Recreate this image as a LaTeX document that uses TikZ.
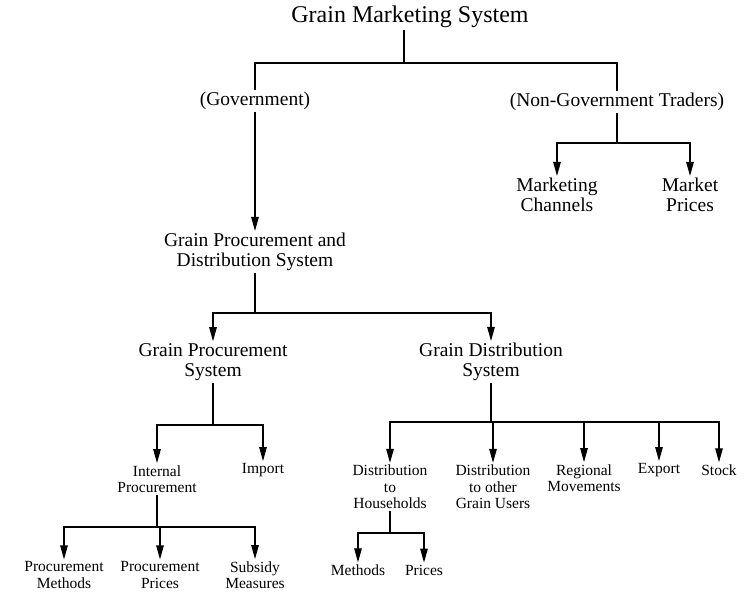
\documentclass[tikz,border=0pt]{standalone}
\usepackage{fontspec}
\setmainfont{Liberation Serif}
\usetikzlibrary{arrows.meta}

\begin{document}
\begin{tikzpicture}[
  x=1pt,y=-1pt,
  head/.style={
    inner sep=2pt,
    font=\fontsize{24}{26}\selectfont
  },
  upper/.style={
    align=center,
    inner sep=2pt,
    font=\fontsize{19.5}{20}\selectfont
  },
  lower/.style={
    align=center,
    inner sep=2pt,
    font=\fontsize{15.5}{16.5}\selectfont
  },
  link/.style={line width=1.2pt},
  down/.style={link,-{Triangle[width=7.5pt,length=14pt]}}
]
\useasboundingbox (0,0) rectangle (746,595);

\node[head] (gms) at (410,17) {Grain Marketing System};
\node[upper] (gov) at (255,101) {(Government)};
\node[upper] (ngt) at (617,102) {(Non-Government Traders)};
\node[upper] (mc) at (557,195) {Marketing\\Channels};
\node[upper] (mp) at (690,195) {Market\\Prices};
\node[upper] (gpd) at (255,252) {Grain Procurement and\\Distribution System};
\node[upper] (gps) at (213,362) {Grain Procurement\\System};
\node[upper] (gds) at (491,362) {Grain Distribution\\System};
\node[lower] (ip) at (157,479) {Internal\\Procurement};
\node[lower] (imp) at (263,470) {Import};
\node[lower] (dh) at (390,487) {Distribution\\to\\Households};
\node[lower] (dg) at (493,487) {Distribution\\to other\\Grain Users};
\node[lower] (rm) at (584,478) {Regional\\Movements};
\node[lower] (ex) at (659,470) {Export};
\node[lower] (st) at (719,470) {Stock};
\node[lower] (pm) at (64,575) {Procurement\\Methods};
\node[lower] (pp) at (160,575) {Procurement\\Prices};
\node[lower] (sm) at (255,575) {Subsidy\\Measures};
\node[lower] (me) at (358,570) {Methods};
\node[lower] (pr) at (424,570) {Prices};

\coordinate (j0) at (404,63);
\coordinate (j1) at (617,143);
\coordinate (j2) at (255,313);
\coordinate (j3) at (213,425);
\coordinate (j4) at (491,422);
\coordinate (j5) at (157,527);
\coordinate (j6) at (390,533);

\draw[link] (gms.south -| j0) -- (j0);
\draw[link] (j0) -| (gov.north);
\draw[link] (j0) -| (ngt.north);
\draw[down] (gov.south) -- (gpd.north);
\draw[link] (ngt.south) -- (j1);
\draw[down] (j1) -| (mc.north);
\draw[down] (j1) -| (mp.north);

\draw[link] (gpd.south) -- (j2);
\draw[down] (j2) -| (gps.north);
\draw[down] (j2) -| (gds.north);

\draw[link] (gps.south) -- (j3);
\draw[down] (j3) -| (ip.north);
\draw[down] (j3) -| (imp.north);

\draw[link] (gds.south) -- (j4);
\foreach \n in {dh,dg,rm,ex,st}
  \draw[down] (j4) -| (\n.north);

\draw[link] (ip.south) -- (j5);
\foreach \n in {pm,pp,sm}
  \draw[down] (j5) -| (\n.north);

\draw[link] (dh.south) -- (j6);
\draw[down] (j6) -| (me.north);
\draw[down] (j6) -| (pr.north);
\end{tikzpicture}
\end{document}
